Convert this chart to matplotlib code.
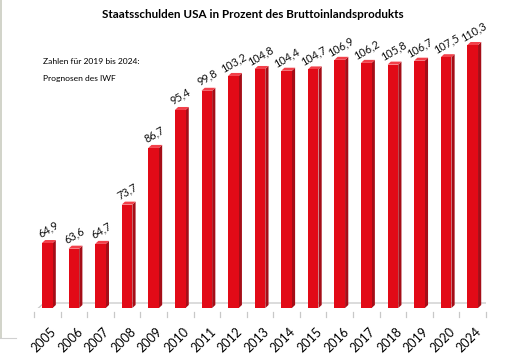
import matplotlib.pyplot as plt
from matplotlib.patches import Polygon

years = ["2005", "2006", "2007", "2008", "2009", "2010", "2011", "2012",
         "2013", "2014", "2015", "2016", "2017", "2018", "2019", "2020", "2024"]
debt = [64.9, 63.6, 64.7, 73.7, 86.7, 95.4, 99.8, 103.2,
        104.8, 104.4, 104.7, 106.9, 106.2, 105.8, 106.7, 107.5, 110.3]

plt.rcParams['font.family'] = ['Lato', 'DejaVu Sans']

fig = plt.figure(figsize=(5.06, 3.57), dpi=100)

n = len(years)
step = 452 / n          # px per category
ypx = 4.36              # px per percent point
ax = fig.add_axes([34 / 506, 49 / 357, 452 / 506, 296.6 / 357])
ax.set_xlim(-0.5, n - 0.5)
ax.set_ylim(50, 118)
ax.axis("off")

base = 50
bw = 0.40
# 3d offsets (data units)
dx = 3.2 / step
dy = 3.0 / ypx

front = "#E20A17"
side = "#A50D17"
top = "#F2404A"

x = list(range(n))

# floor
fdx = 10 / step
fy0 = base - 4 / ypx
fy1 = base + 5 / ypx
floor = Polygon([(-0.5, fy0), (n - 0.5, fy0), (n - 0.5 + fdx, fy1), (-0.5 + fdx, fy1)],
                closed=True, facecolor="white", edgecolor="#C8C8C8", lw=0.9, zorder=1)
ax.add_patch(floor)
for i in range(n + 1):
    ax.plot([i - 0.5, i - 0.5], [fy0, fy0 - 5 / ypx], color="#C8C8C8", lw=0.9,
            clip_on=False, zorder=1)

ax.bar(x, [v - base for v in debt], bottom=base, width=bw, color=front, zorder=3)
for xi, v in zip(x, debt):
    l, r = xi - bw / 2, xi + bw / 2
    ax.add_patch(Polygon([(r, base), (r + dx, base + dy), (r + dx, v + dy), (r, v)],
                         closed=True, facecolor=side, lw=0, zorder=2))
    ax.add_patch(Polygon([(l, v), (r, v), (r + dx, v + dy), (l + dx, v + dy)],
                         closed=True, facecolor=top, lw=0, zorder=2))
    ax.text(xi + 0.12, v + 2.0, f"{v:.1f}".replace(".", ","), rotation=30,
            ha="center", va="bottom", fontsize=7.8, color="#111111",
            rotation_mode="anchor")

for xi, yr in zip(x, years):
    ax.text(xi + 0.1, fy0 - 3.0, yr, rotation=45, ha="right", va="top",
            fontsize=9, color="black", rotation_mode="anchor")

fig.text(253 / 506, 1 - 15 / 357, "Staatsschulden USA in Prozent des Bruttoinlandsprodukts",
         ha="center", va="center", fontsize=8.4, fontweight="bold")
fig.text(43 / 506, 1 - 62 / 357, "Zahlen für 2019 bis 2024:", ha="left", va="center",
         fontsize=6.1)
fig.text(43 / 506, 1 - 78 / 357, "Prognosen des IWF", ha="left", va="center",
         fontsize=6.1)

# thin frame remnants on the left
fig.add_artist(plt.Line2D([1.2 / 506, 1.2 / 506], [1 - 338 / 357, 1], color="#C9CCC0", lw=1.2))
fig.add_artist(plt.Line2D([0, 16 / 506], [1 - 338 / 357, 1 - 338 / 357], color="#D0D0D0", lw=0.8))

fig.savefig("out.png", dpi=100)
